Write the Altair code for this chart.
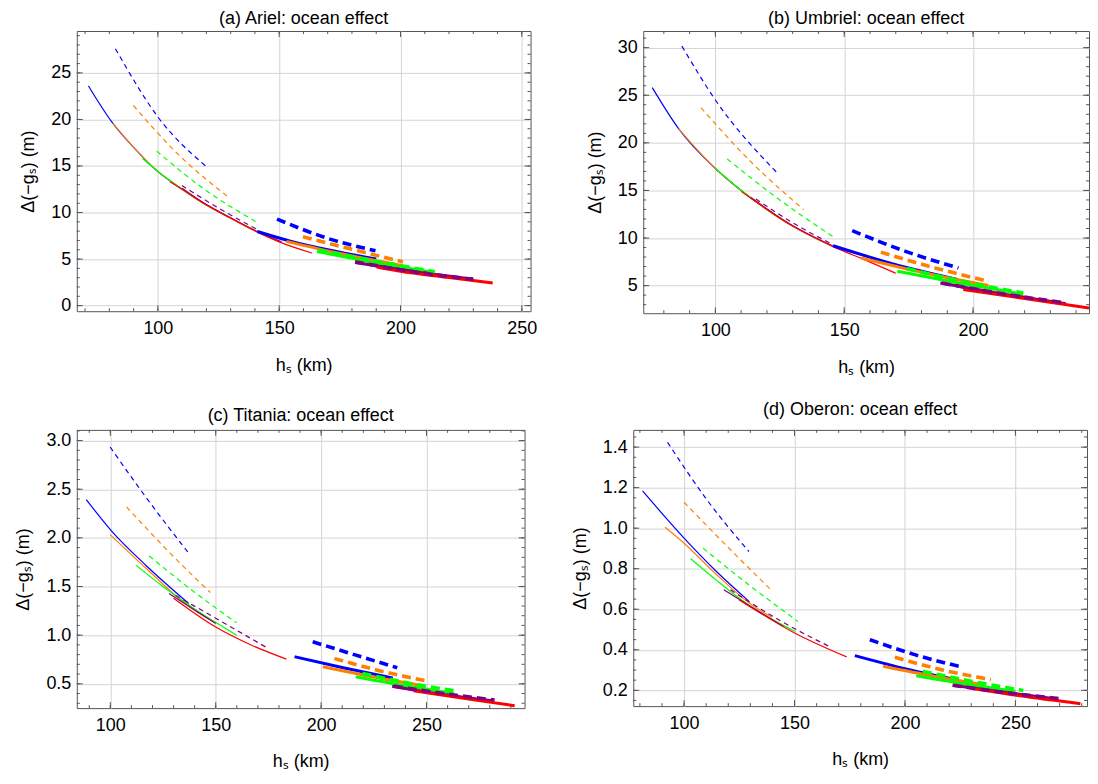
import altair as alt
import pandas as pd

COLOR_NAMES = ["blue", "orange", "green", "purple", "red"]
COLOR_HEX = ["#0000ff", "#ff8000", "#00ff00", "#800080", "#ff0000"]

# ---------------- Panel (a) Ariel ----------------
A_THIN_SOLID = {
    "blue":   ([71.4, 81.4, 90, 100, 110, 120], [23.6, 19.6, 17.0, 14.4, 12.5, 10.8]),
    "orange": ([81.4, 90, 100, 110, 120, 129], [19.6, 17.0, 14.4, 12.5, 10.8, 9.5]),
    "green":  ([93.7, 100, 110, 120, 130, 141], [15.8, 14.4, 12.5, 10.8, 9.4, 7.95]),
    "purple": ([110, 120, 130, 141, 151], [12.6, 10.85, 9.45, 7.95, 6.85]),
    "red":    ([105, 110, 120, 130, 141, 150, 163.5], [13.3, 12.5, 10.8, 9.4, 7.9, 6.85, 5.65]),
}
A_THIN_DASH = {
    "blue":   ([82.5, 100.5, 119.7], [27.6, 20.1, 15.0]),
    "orange": ([89.9, 107.4, 129.3], [21.5, 16.5, 11.6]),
    "green":  ([99.5, 119.7, 141.3], [16.6, 12.4, 8.9]),
    "purple": ([109.9, 125.2, 141.5], [12.9, 10.45, 8.1]),
}
A_THICK_SOLID = {
    "blue":   ([141, 155, 170, 190], [7.96, 6.9, 6.0, 5.0]),
    "orange": ([153, 175, 201], [6.9, 5.6, 4.3]),
    "green":  ([165.6, 190, 214], [5.82, 4.6, 3.55]),
    "purple": ([181.3, 205, 230], [4.64, 3.7, 2.85]),
    "red":    ([190.2, 200, 220, 238], [4.14, 3.68, 3.03, 2.42]),
}
A_THICK_DASH = {
    "blue":   ([149.1, 169.7, 189.7], [9.3, 7.25, 5.9]),
    "orange": ([159.8, 179.2, 201], [7.4, 6.1, 4.7]),
    "green":  ([166.2, 190.2, 214.1], [5.95, 4.75, 3.65]),
    "purple": ([181.3, 205.2, 229.9], [4.7, 3.65, 2.82]),
}

# ---------------- Panel (b) Umbriel ----------------
B_THIN_SOLID = {
    "blue":   ([75.5, 85.7, 100, 113.8, 124], [25.8, 21.5, 17.3, 14.2, 12.3]),
    "orange": ([85.7, 100, 113.8, 129.1, 134], [21.5, 17.3, 14.2, 11.4, 10.7]),
    "green":  ([100, 113.8, 129.1, 145.7], [17.3, 14.2, 11.4, 9.1]),
    "purple": ([113.8, 129.1, 145.7], [14.25, 11.45, 9.15]),
    "red":    ([110, 113.8, 129.1, 145.7, 158, 170], [14.9, 14.18, 11.39, 9.1, 7.7, 6.3]),
}
B_THIN_DASH = {
    "blue":   ([87, 100, 123.8], [30.16, 24.5, 16.9]),
    "orange": ([94.4, 113.8, 134.2], [23.7, 18.0, 13.0]),
    "green":  ([104.6, 124, 146.4], [18.3, 14.2, 10.0]),
    "purple": ([115.7, 130, 145.7], [14.1, 11.6, 9.3]),
}
B_THICK_SOLID = {
    "blue":   ([145.7, 170, 194.3], [9.19, 7.2, 5.63]),
    "orange": ([156.6, 180, 206], [7.9, 6.4, 5.0]),
    "green":  ([170.6, 195, 219.5], [6.5, 5.25, 4.1]),
    "purple": ([187.3, 212, 236], [5.27, 4.1, 3.1]),
    "red":    ([196.2, 220, 245], [4.58, 3.65, 2.65]),
}
B_THICK_DASH = {
    "blue":   ([153.1, 173.8, 194.3], [10.77, 8.6, 6.85]),
    "orange": ([164.2, 185.3, 206.1], [8.52, 6.85, 5.45]),
    "green":  ([174.4, 196.8, 219.5], [6.78, 5.38, 4.22]),
    "purple": ([187.9, 212.1, 235.8], [5.27, 4.12, 3.18]),
}

# ---------------- Panel (c) Titania ----------------
C_THIN_SOLID = {
    "blue":   ([88.6, 100.3, 116.8, 137.2], [2.393, 2.078, 1.719, 1.325]),
    "orange": ([99.9, 116.8, 137, 147], [2.034, 1.69, 1.30, 1.16]),
    "green":  ([112.1, 125, 140, 160], [1.72, 1.50, 1.27, 1.0]),
    "purple": ([127.8, 137, 150], [1.428, 1.30, 1.12]),
    "red":    ([130, 149.8, 167, 183.5], [1.38, 1.086, 0.897, 0.754]),
}
C_THIN_DASH = {
    "blue":   ([99.9, 116.8, 136.7], [2.934, 2.42, 1.856]),
    "orange": ([107.7, 127.8, 147.4], [2.318, 1.856, 1.438]),
    "green":  ([118.4, 138.7, 159.9], [1.815, 1.462, 1.127]),
    "purple": ([130.9, 152.9, 174.9], [1.41, 1.138, 0.863]),
}
C_THICK_SOLID = {
    "blue":   ([187.4, 211, 234], [0.778, 0.663, 0.56]),
    "orange": ([200.8, 225, 248], [0.676, 0.57, 0.48]),
    "green":  ([216.4, 240, 263], [0.573, 0.48, 0.40]),
    "purple": ([233.7, 258, 281], [0.476, 0.39, 0.325]),
    "red":    ([243.9, 267.5, 291.8], [0.429, 0.35, 0.275]),
}
C_THICK_DASH = {
    "blue":   ([196, 215.7, 236.1], [0.932, 0.80, 0.665]),
    "orange": ([206.3, 226.6, 249.4], [0.76, 0.64, 0.532]),
    "green":  ([219.6, 242.3, 264.3], [0.607, 0.504, 0.425]),
    "purple": ([234.5, 258, 282.3], [0.476, 0.40, 0.333]),
}

# ---------------- Panel (d) Oberon ----------------
D_THIN_SOLID = {
    "blue":   ([81.2, 100, 114.3, 129.3], [1.184, 0.951, 0.79, 0.64]),
    "orange": ([91.4, 100, 114.3, 129.3, 139.8], [1.005, 0.926, 0.775, 0.632, 0.56]),
    "green":  ([103, 115, 130, 150.3], [0.849, 0.74, 0.615, 0.49]),
    "purple": ([118, 130, 145], [0.696, 0.615, 0.515]),
    "red":    ([124.8, 150, 173.6], [0.647, 0.483, 0.365]),
}
D_THIN_DASH = {
    "blue":   ([92.5, 109.8, 129.3], [1.424, 1.148, 0.885]),
    "orange": ([100, 118.8, 139.8], [1.128, 0.918, 0.691]),
    "green":  ([108.6, 129.3, 151.5], [0.901, 0.721, 0.54]),
    "purple": ([121, 142.8, 165.6], [0.696, 0.548, 0.417]),
}
D_THICK_SOLID = {
    "blue":   ([177.3, 199.9, 223.1], [0.371, 0.307, 0.253]),
    "orange": ([190.1, 213, 236], [0.319, 0.27, 0.228]),
    "green":  ([205.1, 228, 250], [0.272, 0.23, 0.195]),
    "purple": ([221.6, 245, 268], [0.225, 0.19, 0.158]),
    "red":    ([231.4, 255.4, 279.4], [0.208, 0.168, 0.134]),
}
D_THICK_DASH = {
    "blue":   ([184.1, 204.4, 226.1], [0.45, 0.376, 0.314]),
    "orange": ([195.4, 216.4, 238.9], [0.363, 0.302, 0.253]),
    "green":  ([208.1, 229.9, 253.6], [0.294, 0.245, 0.199]),
    "purple": ([221.6, 246.4, 270.4], [0.225, 0.187, 0.159]),
}

# axis ticks
A_XMAJOR, A_YMAJOR = [100, 150, 200, 250], [0, 5, 10, 15, 20, 25]
B_XMAJOR, B_YMAJOR = [100, 150, 200], [5, 10, 15, 20, 25, 30]
C_XMAJOR, C_YMAJOR = [100, 150, 200, 250], [0.5, 1.0, 1.5, 2.0, 2.5, 3.0]
D_XMAJOR, D_YMAJOR = [100, 150, 200, 250], [0.2, 0.4, 0.6, 0.8, 1.0, 1.2, 1.4]

FRAME = "#555555"
FONT = "Liberation Sans"
FS = 18
STYLES = [
    ("thin_solid", 1.2, None),
    ("thin_dash", 1.2, [5, 4]),
    ("thick_solid", 3.0, None),
    ("thick_dash", 3.6, [9, 5]),
]


def minor(lo, hi, step):
    n = int(round((hi - lo) / step))
    return [round(lo + i * step, 4) for i in range(n + 1)]


def panel(title, groups, xdom, ydom, xmaj, ymaj, xmin, ymin, yfmt, w, h, toff):
    rows = []
    for (style, _, _), dct in zip(STYLES, groups):
        for i, c in enumerate(COLOR_NAMES):
            if c in dct:
                xs, ys = dct[c]
                for x, y in zip(xs, ys):
                    rows.append(dict(x=x, y=y, series=f"{style}_{i}_{c}", col=c, style=style))
    df = pd.DataFrame(rows)
    xsc = alt.Scale(domain=xdom, nice=False, zero=False)
    ysc = alt.Scale(domain=ydom, nice=False, zero=False)
    xax = alt.Axis(values=xmaj, title="hₛ (km)", grid=True, ticks=False, domain=False,
                   labelPadding=8, titlePadding=19, format="d")
    yax = alt.Axis(values=ymaj, title="Δ(−gₛ) (m)", grid=True, ticks=False, domain=False,
                   labelPadding=6, titlePadding=13, format=yfmt)
    layers = []
    for vals, L in [(xmaj, 6), (xmin, 3)]:
        d = pd.DataFrame({"t": [v for v in vals if xdom[0] < v < xdom[1]]})
        layers.append(alt.Chart(d).mark_rule(color=FRAME, strokeWidth=1).encode(
            x=alt.X("t:Q", scale=xsc, axis=xax), y=alt.value(h), y2=alt.value(h - L)))
        layers.append(alt.Chart(d).mark_rule(color=FRAME, strokeWidth=1).encode(
            x=alt.X("t:Q", scale=xsc, axis=xax), y=alt.value(0), y2=alt.value(L)))
    for vals, L in [(ymaj, 6), (ymin, 3)]:
        d = pd.DataFrame({"t": [v for v in vals if ydom[0] < v < ydom[1]]})
        layers.append(alt.Chart(d).mark_rule(color=FRAME, strokeWidth=1).encode(
            y=alt.Y("t:Q", scale=ysc, axis=yax), x=alt.value(0), x2=alt.value(L)))
        layers.append(alt.Chart(d).mark_rule(color=FRAME, strokeWidth=1).encode(
            y=alt.Y("t:Q", scale=ysc, axis=yax), x=alt.value(w), x2=alt.value(w - L)))
    for style, sw, dash in STYLES:
        kw = dict(strokeWidth=sw, clip=True, interpolate="monotone")
        if dash:
            kw["strokeDash"] = dash
        layers.append(alt.Chart(df).transform_filter(alt.datum.style == style).mark_line(**kw).encode(
            x=alt.X("x:Q", scale=xsc, axis=xax),
            y=alt.Y("y:Q", scale=ysc, axis=yax),
            color=alt.Color("col:N", scale=alt.Scale(domain=COLOR_NAMES, range=COLOR_HEX), legend=None),
            detail="series:N",
        ))
    return alt.layer(*layers).properties(
        width=w, height=h,
        title=alt.TitleParams(title, fontSize=FS, font=FONT, fontWeight="normal", anchor="middle",
                              frame="group", offset=toff, color="black"),
    )


pa = panel("(a) Ariel: ocean effect", [A_THIN_SOLID, A_THIN_DASH, A_THICK_SOLID, A_THICK_DASH],
           [66.6, 253.6], [-0.6, 29.5], A_XMAJOR, A_YMAJOR, minor(70, 250, 10), minor(0, 29, 1), "d", 455, 281, 3)
pb = panel("(b) Umbriel: ocean effect", [B_THIN_SOLID, B_THIN_DASH, B_THICK_SOLID, B_THICK_DASH],
           [72.0, 245.0], [2.1, 31.75], B_XMAJOR, B_YMAJOR, minor(80, 240, 10), minor(3, 31, 1), "d", 447, 283, 3)
pc = panel("(c) Titania: ocean effect", [C_THIN_SOLID, C_THIN_DASH, C_THICK_SOLID, C_THICK_DASH],
           [84.1, 296.5], [0.25, 3.11], C_XMAJOR, C_YMAJOR, minor(90, 290, 10), minor(0.3, 3.1, 0.1), ".1f", 449, 279, 4)
pd_ = panel("(d) Oberon: ocean effect", [D_THIN_SOLID, D_THIN_DASH, D_THICK_SOLID, D_THICK_DASH],
            [77.0, 282.4], [0.122, 1.485], D_XMAJOR, D_YMAJOR, minor(80, 280, 10), minor(0.15, 1.45, 0.05), ".1f", 455, 277, 10)

chart = alt.vconcat(
    alt.hconcat(pa, pb, spacing=48),
    alt.hconcat(pc, pd_, spacing=45),
    spacing=24,
).properties(
    padding={"left": 6, "top": 0, "right": 0, "bottom": 0}
).configure_view(
    stroke=FRAME, strokeWidth=1
).configure_axis(
    labelFont=FONT, titleFont=FONT, labelFontSize=FS, titleFontSize=FS,
    titleFontWeight="normal", labelColor="black", titleColor="black",
    gridColor="#d4d4d4", gridWidth=1,
)

chart.save("out.html", embed_options={"renderer": "svg", "actions": False})
